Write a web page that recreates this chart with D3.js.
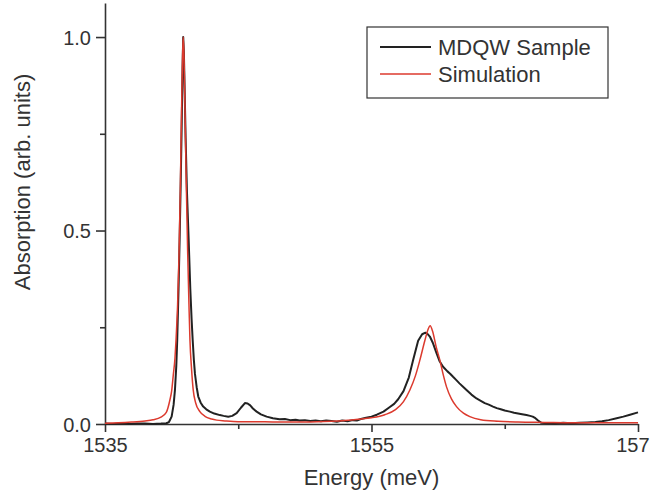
<!DOCTYPE html>
<meta charset="utf-8">
<style>
  body { margin: 0; background: #fff; }
  svg { display: block; font-family: "Liberation Sans", Arial, sans-serif; }
</style>
<div id="container"></div>
<script src="https://cdn.jsdelivr.net/npm/d3@7"></script>
<script>
    // Data
    let sampleEnergy = [1535.0, 1535.6, 1536.2, 1536.8, 1537.4, 1538.0, 1538.6, 1539.2, 1539.6, 1539.8,
        1540.0, 1540.15, 1540.25, 1540.35, 1540.42, 1540.52, 1540.6, 1540.68, 1540.75, 1540.82,
        1540.87, 1540.92, 1540.98, 1541.05, 1541.15, 1541.28, 1541.4, 1541.5, 1541.58, 1541.67,
        1541.75, 1541.88, 1542.0, 1542.18, 1542.37, 1542.6, 1542.87, 1543.2, 1543.62, 1543.9,
        1544.25, 1544.55, 1544.88, 1545.2, 1545.5, 1545.7, 1545.9, 1546.1, 1546.38, 1546.7,
        1547.13, 1547.6, 1548.1, 1548.5, 1548.9, 1549.3, 1549.6, 1550.0, 1550.4, 1550.8,
        1551.2, 1551.6, 1552.0, 1552.4, 1552.8, 1553.2, 1553.6, 1553.9, 1554.2, 1554.6,
        1555.0, 1555.4, 1555.9, 1556.3, 1556.7, 1557.0, 1557.4, 1557.8, 1558.12, 1558.5,
        1558.8, 1559.05, 1559.2, 1559.38, 1559.6, 1559.88, 1560.1, 1560.37, 1560.7, 1560.9,
        1561.12, 1561.35, 1561.6, 1561.85, 1562.13, 1562.5, 1562.88, 1563.2, 1563.5, 1563.8,
        1564.12, 1564.4, 1564.7, 1565.0, 1565.38, 1565.7, 1566.0, 1566.3, 1566.63, 1566.9,
        1567.1, 1567.3, 1567.5, 1567.75, 1568.2, 1568.8, 1569.4, 1570.0, 1570.6, 1571.2,
        1571.8, 1572.3, 1572.8, 1573.4, 1573.9, 1574.4, 1575.0];
    let sampleAbs = [0.001, 0.000, 0.001, 0.000, 0.001, 0.001, 0.000, 0.001, 0.002, 0.005,
        0.019, 0.05, 0.088, 0.15, 0.217, 0.35, 0.475, 0.62, 0.76, 0.92,
        1.0, 0.96, 0.86, 0.74, 0.6, 0.475, 0.35, 0.27, 0.217, 0.165,
        0.13, 0.095, 0.071, 0.055, 0.045, 0.038, 0.032, 0.027, 0.023, 0.021,
        0.019, 0.021, 0.028, 0.042, 0.054, 0.053, 0.048, 0.04, 0.032, 0.025,
        0.019, 0.015, 0.012, 0.013, 0.010, 0.011, 0.009, 0.010, 0.008, 0.009,
        0.007, 0.009, 0.008, 0.006, 0.009, 0.007, 0.010, 0.009, 0.013, 0.016,
        0.019, 0.024, 0.032, 0.042, 0.052, 0.064, 0.085, 0.12, 0.165, 0.215,
        0.232, 0.236, 0.233, 0.226, 0.21, 0.183, 0.163, 0.148, 0.136, 0.13,
        0.122, 0.114, 0.105, 0.097, 0.088, 0.076, 0.066, 0.060, 0.054, 0.050,
        0.045, 0.041, 0.038, 0.035, 0.032, 0.029, 0.027, 0.025, 0.023, 0.021,
        0.019, 0.015, 0.009, 0.003, 0.002, 0.001, 0.003, 0.002, 0.003, 0.004,
        0.005, 0.007, 0.010, 0.015, 0.019, 0.024, 0.030];

    let simEnergy = [1535.0, 1536.0, 1537.0, 1538.0, 1538.6, 1539.2, 1539.6, 1539.87, 1540.0, 1540.12,
        1540.25, 1540.33, 1540.45, 1540.55, 1540.65, 1540.75, 1540.82, 1540.87, 1540.93, 1541.0,
        1541.1, 1541.2, 1541.3, 1541.375, 1541.5, 1541.62, 1541.8, 1542.12, 1542.5, 1543.0,
        1543.38, 1544.0, 1545.0, 1546.0, 1548.0, 1550.0, 1552.0, 1553.0, 1554.0, 1555.0,
        1556.0, 1556.8, 1557.4, 1557.88, 1558.3, 1558.63, 1559.0, 1559.25, 1559.4, 1559.6,
        1559.85, 1560.13, 1560.4, 1560.63, 1561.0, 1561.38, 1561.9, 1562.38, 1563.2, 1564.5,
        1566.0, 1568.0, 1570.0, 1572.5, 1575.0];
    let simAbs = [0.002, 0.003, 0.005, 0.008, 0.011, 0.018, 0.030, 0.062, 0.085, 0.125,
        0.17, 0.217, 0.31, 0.43, 0.6, 0.82, 0.95, 1.0, 0.95, 0.82,
        0.62, 0.45, 0.31, 0.217, 0.14, 0.088, 0.055, 0.032, 0.020, 0.013,
        0.010, 0.008, 0.006, 0.006, 0.005, 0.005, 0.007, 0.009, 0.012, 0.016,
        0.024, 0.037, 0.058, 0.088, 0.125, 0.165, 0.215, 0.245, 0.254, 0.238,
        0.2, 0.165, 0.125, 0.096, 0.065, 0.045, 0.028, 0.019, 0.011, 0.007,
        0.005, 0.004, 0.003, 0.003, 0.003];

    let xMajor = [1535, 1555, 1575];
    let xMinor = [1545, 1565];
    let yMajor = [0, 0.5, 1.0];
    let yMinor = [0.25, 0.75];
    let seriesNames = ["MDQW Sample", "Simulation"];

    let W = 650, H = 497;
    let plot = { left: 105, right: 638, top: 3, bottom: 424 };

    let svg = d3.select("#container")
        .append("svg")
        .attr("width", W)
        .attr("height", H);

    let x = d3.scaleLinear().domain([1535, 1575]).range([plot.left, plot.right]);
    let y = d3.scaleLinear().domain([0, 1.088]).range([plot.bottom, plot.top]);

    let axisColor = "#333";

    // minor ticks first
    svg.append("g")
        .attr("transform", `translate(0,${plot.bottom})`)
        .call(d3.axisBottom(x).tickValues(xMinor).tickSize(5).tickFormat(""))
        .call(g => g.select(".domain").remove());
    svg.append("g")
        .attr("transform", `translate(${plot.left},0)`)
        .call(d3.axisLeft(y).tickValues(yMinor).tickSize(5).tickFormat(""))
        .call(g => g.select(".domain").remove());

    let xAxis = svg.append("g")
        .attr("transform", `translate(0,${plot.bottom})`)
        .call(d3.axisBottom(x).tickValues(xMajor).tickSize(8).tickSizeOuter(0).tickPadding(6).tickFormat(d3.format("d")));
    let yAxis = svg.append("g")
        .attr("transform", `translate(${plot.left},0)`)
        .call(d3.axisLeft(y).tickValues(yMajor).tickSize(9).tickSizeOuter(0).tickPadding(5).tickFormat(d3.format(".1f")));

    svg.selectAll(".tick line, .domain")
        .attr("stroke", axisColor)
        .attr("stroke-width", 1.6);
    svg.selectAll(".tick text")
        .attr("fill", "#333")
        .style("font-size", "20px")
        .style("font-family", "'Liberation Sans', Arial, sans-serif");
    yAxis.selectAll(".tick text").attr("dy", "0.36em");

    // curves
    let sample = sampleEnergy.map((e, i) => [e, sampleAbs[i]]);
    let sim = simEnergy.map((e, i) => [e, simAbs[i]]);

    let line = d3.line().x(d => x(d[0])).y(d => y(d[1]));

    svg.append("path")
        .datum(sample)
        .attr("fill", "none")
        .attr("stroke", "#222")
        .attr("stroke-width", 2)
        .attr("stroke-linejoin", "round")
        .attr("d", line.curve(d3.curveLinear));

    svg.append("path")
        .datum(sim)
        .attr("fill", "none")
        .attr("stroke", "#dc3a2e")
        .attr("stroke-width", 1.5)
        .attr("d", line.curve(d3.curveMonotoneX));

    // axis titles
    svg.append("text")
        .attr("x", x(1555))
        .attr("y", 485)
        .attr("text-anchor", "middle")
        .attr("fill", "#333")
        .style("font-size", "22px")
        .text("Energy (meV)");

    svg.append("text")
        .attr("transform", `translate(30,182) rotate(-90)`)
        .attr("text-anchor", "middle")
        .attr("fill", "#333")
        .style("font-size", "22px")
        .text("Absorption (arb. units)");

    // legend
    let legend = svg.append("g");
    legend.append("rect")
        .attr("x", 367).attr("y", 27)
        .attr("width", 241).attr("height", 71)
        .attr("fill", "#fff")
        .attr("stroke", "#333")
        .attr("stroke-width", 1.2);
    let colors = ["#222", "#dc3a2e"];
    seriesNames.forEach((name, i) => {
        let ly = 47 + i * 27;
        legend.append("line")
            .attr("x1", 380).attr("x2", 431)
            .attr("y1", ly).attr("y2", ly)
            .attr("stroke", colors[i])
            .attr("stroke-width", i === 0 ? 2 : 1.5);
        legend.append("text")
            .attr("x", 438).attr("y", ly + 8)
            .attr("fill", "#333")
            .style("font-size", "22px")
            .text(name);
    });
</script>
